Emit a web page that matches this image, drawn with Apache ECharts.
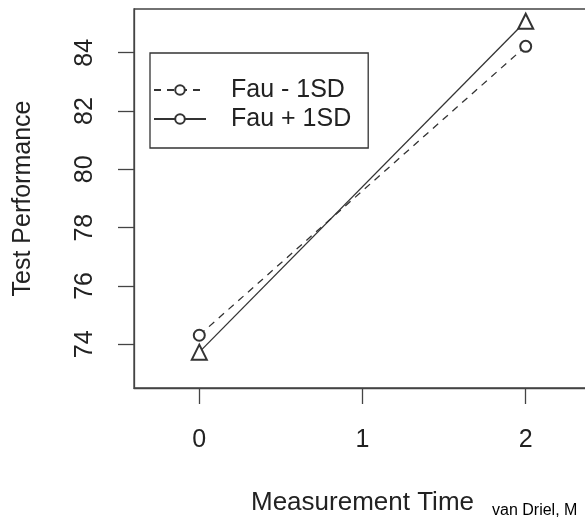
<!DOCTYPE html>
<html>
<head>
<meta charset="utf-8">
<script src="https://cdn.jsdelivr.net/npm/echarts@6/dist/echarts.min.js"></script>
<style>html,body{margin:0;padding:0;background:#fff;}#c{width:585px;height:518px;}</style>
</head>
<body>
<div id="c"></div>
<script>
var timePoints = [0, 2];
var fauMinus = [74.31, 84.22];
var fauPlus = [73.73, 85.08];
var seriesNames = ['Fau - 1SD', 'Fau + 1SD'];
var xTicks = [0, 1, 2];
var yTicks = [74, 76, 78, 80, 82, 84];

var FONT = 'Liberation Sans';
var INK = '#333';

function pairs(xs, ys, sym, size) {
  return xs.map(function (x, i) {
    var d = { value: [x, ys[i]] };
    if (sym) { d.symbol = sym; d.symbolSize = size; }
    return d;
  });
}

var chart = echarts.init(document.getElementById('c'), null, { renderer: 'canvas' });
chart.setOption({
  animation: false,
  backgroundColor: '#fff',
  textStyle: { fontFamily: FONT },
  grid: {
    left: 134, width: 457, top: 9, height: 379,
    outerBoundsMode: 'none', containLabel: false,
    show: true, borderColor: '#444', borderWidth: 1.3, backgroundColor: 'transparent'
  },
  xAxis: {
    type: 'value', min: -0.4, max: 2.4,
    name: 'Measurement Time', nameLocation: 'middle', nameGap: 102,
    nameTextStyle: { fontFamily: FONT, fontSize: 26, color: '#222' },
    axisLine: { show: true, onZero: false, lineStyle: { color: '#444', width: 1.3 } },
    splitLine: { show: false },
    axisTick: { show: true, customValues: xTicks, length: 16, lineStyle: { color: '#444', width: 1.3 } },
    axisLabel: { customValues: xTicks, margin: 40, fontFamily: FONT, fontSize: 25, color: '#222' }
  },
  yAxis: {
    type: 'value', min: 72.5, max: 85.5,
    name: 'Test Performance', nameLocation: 'middle', nameGap: 98, nameRotate: 90,
    nameTextStyle: { fontFamily: FONT, fontSize: 25, color: '#222' },
    axisLine: { show: true, onZero: false, lineStyle: { color: '#444', width: 1.3 } },
    splitLine: { show: false },
    axisTick: { show: true, customValues: yTicks, length: 16, lineStyle: { color: '#444', width: 1.3 } },
    axisLabel: { customValues: yTicks, rotate: 90, margin: 36, fontFamily: FONT, fontSize: 25, color: '#222' }
  },
  legend: {
    orient: 'vertical', left: 150, top: 53,
    padding: [24, 17, 16, 3],
    borderColor: '#333', borderWidth: 1.3,
    itemWidth: 52, itemHeight: 12, itemGap: 3,
    textStyle: { fontFamily: FONT, fontSize: 25, color: '#222', lineHeight: 26, padding: [0, 0, 0, 20] },
    data: seriesNames
  },
  graphic: [{
    type: 'text', left: 492, top: 503,
    style: { text: 'van Driel, M', font: '16px "Liberation Sans"', fill: '#000' }
  }],
  series: [{
    name: seriesNames[0], type: 'line',
    data: pairs(timePoints, fauMinus),
    symbol: 'emptyCircle', symbolSize: 11,
    lineStyle: { color: INK, width: 1.3, type: [7, 6] },
    itemStyle: { color: INK, borderColor: INK, borderWidth: 1.3 }
  }, {
    name: seriesNames[1], type: 'line',
    data: pairs(timePoints, fauPlus, 'emptyTriangle', 15),
    symbol: 'emptyCircle', symbolSize: 11,
    lineStyle: { color: INK, width: 1.3, type: 'solid' },
    itemStyle: { color: INK, borderColor: INK, borderWidth: 1.3 }
  }]
});
</script>
</body>
</html>
